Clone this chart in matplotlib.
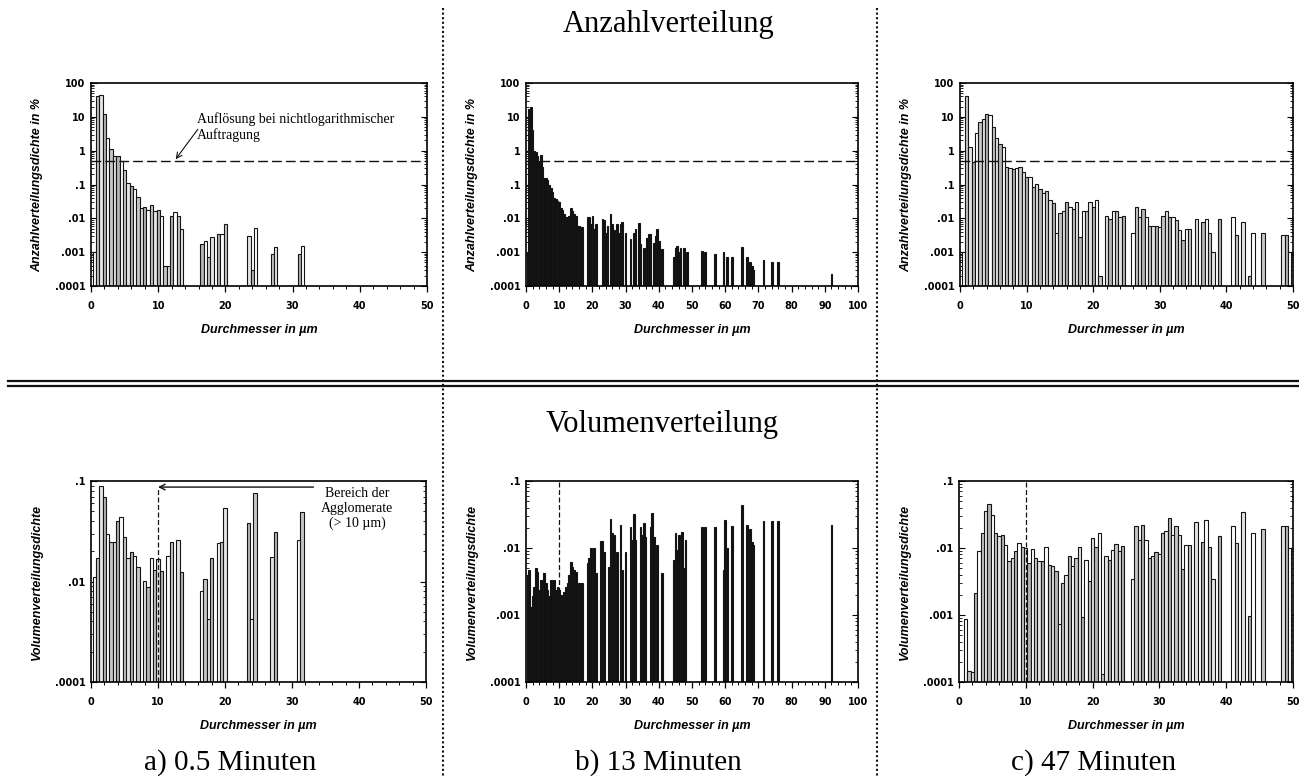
import numpy as np
import matplotlib
matplotlib.use("Agg")
import matplotlib.pyplot as plt
from matplotlib.lines import Line2D
from matplotlib.ticker import (FixedLocator, FixedFormatter, MultipleLocator,
                               LogLocator, NullFormatter)

# ---------------------------------------------------------------------------
# Particle size distributions (bin centre in µm, density)
# ---------------------------------------------------------------------------
# a) 0.5 min - number distribution (%)
a_num_d = [0.5, 1.0, 1.5, 2.0, 2.5, 3.0, 3.5, 4.0, 4.5, 5.0, 5.5, 6.0, 6.5, 7.0,
           7.5, 8.0, 8.5, 9.0, 9.5, 10.0, 10.5, 11.0, 11.5, 12.0, 12.5, 13.0,
           13.5, 16.5, 17.0, 17.5, 18.0, 19.0, 19.5, 20.0, 23.5, 24.0, 24.5,
           27.0, 27.5, 31.0, 31.5]
a_num_v = [0.001, 40, 45, 12, 2.4, 1.15, 0.7, 0.7, 0.5, 0.26, 0.11, 0.09, 0.075,
           0.044, 0.02, 0.021, 0.018, 0.024, 0.017, 0.018, 0.012, 0.0004, 0.0004,
           0.012, 0.015, 0.012, 0.005, 0.0018, 0.0021, 0.0007, 0.0028, 0.0034,
           0.0034, 0.007, 0.003, 0.0003, 0.0052, 0.0009, 0.0014, 0.0009, 0.0015]

# a) 0.5 min - volume distribution
a_vol_d = [0.5, 1.0, 1.5, 2.0, 2.5, 3.0, 3.5, 4.0, 4.5, 5.0, 5.5, 6.0, 6.5, 7.0,
           8.0, 8.5, 9.0, 9.5, 10.0, 10.5, 11.5, 12.0, 13.0, 13.5, 16.5, 17.0,
           17.5, 18.0, 19.0, 19.5, 20.0, 23.5, 24.0, 24.5, 27.0, 27.5, 31.0, 31.5]
a_vol_v = [0.011, 0.017, 0.09, 0.07, 0.03, 0.025, 0.025, 0.04, 0.044, 0.028,
           0.017, 0.0195, 0.018, 0.014, 0.0102, 0.0089, 0.017, 0.013, 0.0167,
           0.0127, 0.018, 0.025, 0.026, 0.0125, 0.008, 0.0105, 0.0042, 0.017,
           0.024, 0.025, 0.054, 0.038, 0.0042, 0.076, 0.0177, 0.031, 0.026, 0.049]

# b) 13 min - number distribution (%)
b_num_d = [0.5, 1.0, 1.5, 2.0, 2.5, 3.0, 3.5, 4.0, 4.5, 5.0, 5.5, 6.0, 6.5, 7.0,
           7.5, 8.0, 8.5, 9.0, 9.5, 10.0, 10.5, 11.0, 11.5, 12.0, 12.5, 13.0,
           13.5, 14.0, 14.5, 15.0, 15.5, 16.0, 16.5, 17.0,
           18.5, 19.0, 19.5, 20.0, 20.5, 21.0, 23.0, 23.5, 24.0, 24.5,
           25.5, 26.0, 26.5, 27.0, 27.5, 28.0, 28.5, 29.0, 30.0, 31.5, 32.5, 33.0,
           34.0, 34.5, 35.5, 36.5, 37.0, 37.5, 38.5, 39.0, 39.5, 40.0, 41.0,
           44.5, 45.0, 45.5, 46.0, 46.5, 47.5, 48.0, 48.5, 53.0, 54.0, 57.0,
           59.5, 60.5, 62.0, 65.0, 66.5, 67.5, 68.0, 68.5, 71.5, 74.0, 76.0, 92.0]
b_num_v = [0.001, 17, 19, 4, 1.0, 0.9, 0.7, 0.5, 0.75, 0.32, 0.16, 0.16, 0.14,
           0.1, 0.08, 0.06, 0.04, 0.037, 0.033, 0.03, 0.02, 0.018, 0.013, 0.011,
           0.0107, 0.012, 0.02, 0.017, 0.013, 0.012, 0.006, 0.0058, 0.0054, 0.0054,
           0.011, 0.011, 0.007, 0.012, 0.005, 0.007, 0.0094, 0.009, 0.0036, 0.006,
           0.013, 0.007, 0.0045, 0.0036, 0.007, 0.0036, 0.007, 0.0077, 0.0038,
           0.0024, 0.0038, 0.0047, 0.0073, 0.0017, 0.0013, 0.0027, 0.0034, 0.0034,
           0.0019, 0.003, 0.0047, 0.0021, 0.0012, 0.0007, 0.0013, 0.0015, 0.001,
           0.0013, 0.0013, 0.0004, 0.001, 0.0011, 0.001, 0.0009, 0.001, 0.0007,
           0.0007, 0.0014, 0.0007, 0.0005, 0.0004, 0.0003, 0.0006, 0.0005, 0.0005,
           0.00023]

# b) 13 min - volume distribution
b_vol_d = [0.5, 1.0, 1.5, 2.0, 2.5, 3.0, 3.5, 4.0, 4.5, 5.0, 5.5, 6.0, 6.5, 7.0,
           7.5, 8.0, 8.5, 9.0, 9.5, 10.0, 10.5, 11.0, 11.5, 12.0, 12.5, 13.0,
           13.5, 14.0, 14.5, 15.0, 15.5, 16.0, 16.5, 17.0,
           18.5, 19.0, 19.5, 20.0, 20.5, 21.0, 22.5, 23.0, 23.5,
           25.0, 25.5, 26.0, 26.5, 27.0, 27.5, 28.5, 29.0, 30.0,
           31.5, 32.0, 32.5, 33.0, 34.5, 35.0, 35.5, 36.0, 37.5, 38.0, 38.5, 39.5,
           41.0, 44.5, 45.0, 45.5, 46.0, 47.0, 47.5, 48.0,
           53.0, 54.0, 57.0, 59.5, 60.0, 60.5, 62.0, 65.0, 66.5, 67.5, 68.0, 68.5,
           71.5, 74.0, 76.0, 92.0]
b_vol_v = [0.004, 0.0047, 0.0013, 0.0019, 0.0026, 0.005, 0.0044, 0.0024, 0.0033,
           0.0026, 0.0042, 0.003, 0.0024, 0.0019, 0.0033, 0.0026, 0.0033, 0.0024,
           0.0026, 0.0024, 0.002, 0.0019, 0.0022, 0.0026, 0.003, 0.004, 0.0062,
           0.0052, 0.0047, 0.0044, 0.0015, 0.003, 0.003, 0.003,
           0.0059, 0.007, 0.0099, 0.0059, 0.0099, 0.0043, 0.0127, 0.0127, 0.0088,
           0.0052, 0.0275, 0.017, 0.0155, 0.0083, 0.0088, 0.0224, 0.0047, 0.0088,
           0.0207, 0.013, 0.032, 0.013, 0.0207, 0.0155, 0.024, 0.0147, 0.0207,
           0.0338, 0.0147, 0.011, 0.0042, 0.0066, 0.0165, 0.0093, 0.0155, 0.0175,
           0.005, 0.013, 0.0207, 0.0207, 0.0207, 0.0047, 0.026, 0.0099, 0.021,
           0.044, 0.0224, 0.019, 0.0123, 0.011, 0.025, 0.025, 0.025, 0.022]

# c) 47 min - number distribution (%)
c_num_d = [0.5, 1.0, 1.5, 2.0, 2.5, 3.0, 3.5, 4.0, 4.5, 5.0, 5.5, 6.0, 6.5, 7.0,
           7.5, 8.0, 8.5, 9.0, 9.5, 10.0, 10.5, 11.0, 11.5, 12.0, 12.5, 13.0,
           13.5, 14.0, 14.5, 15.0, 15.5, 16.0, 16.5, 17.0, 17.5, 18.0, 18.5,
           19.0, 19.5, 20.0, 20.5, 21.0, 22.0, 22.5, 23.0, 23.5, 24.0, 24.5,
           26.0, 26.5, 27.0, 27.5, 28.0, 28.5, 29.0, 29.5, 30.0, 30.5, 31.0, 31.5,
           32.0, 32.5, 33.0, 33.5, 34.0, 34.5, 35.5, 36.5, 37.0, 37.5, 38.0, 39.0,
           41.0, 41.5, 42.5, 43.5, 44.0, 45.5, 48.5, 49.0, 49.5]
c_num_v = [0.001, 42, 1.3, 0.45, 3.3, 7, 8.5, 12, 11, 5, 2.4, 1.6, 1.3, 0.32,
           0.3, 0.28, 0.3, 0.32, 0.24, 0.17, 0.17, 0.085, 0.105, 0.075, 0.055,
           0.065, 0.035, 0.028, 0.0038, 0.014, 0.016, 0.03, 0.022, 0.019, 0.03,
           0.0028, 0.017, 0.016, 0.03, 0.022, 0.035, 0.0002, 0.012, 0.0098, 0.016,
           0.016, 0.011, 0.012, 0.0036, 0.022, 0.011, 0.019, 0.011, 0.006, 0.006,
           0.006, 0.0055, 0.012, 0.016, 0.011, 0.011, 0.009, 0.0045, 0.0023, 0.005,
           0.005, 0.0098, 0.0077, 0.0098, 0.0036, 0.001, 0.0098, 0.011, 0.0032,
           0.0077, 0.0002, 0.0036, 0.0037, 0.0032, 0.0032, 0.001]

# c) 47 min - volume distribution
c_vol_d = [1.0, 1.5, 2.0, 2.5, 3.0, 3.5, 4.0, 4.5, 5.0, 5.5, 6.0, 6.5, 7.0, 7.5,
           8.0, 8.5, 9.0, 9.5, 10.0, 10.5, 11.0, 11.5, 12.0, 12.5, 13.0, 13.5,
           14.0, 14.5, 15.0, 15.5, 16.0, 16.5, 17.0, 17.5, 18.0, 18.5, 19.0, 19.5,
           20.0, 20.5, 21.0, 21.5, 22.0, 22.5, 23.0, 23.5, 24.0, 24.5,
           26.0, 26.5, 27.0, 27.5, 28.0, 28.5, 29.0, 29.5, 30.0, 30.5, 31.0, 31.5,
           32.0, 32.5, 33.0, 33.5, 34.0, 34.5, 35.5, 36.5, 37.0, 37.5, 38.0, 39.0,
           41.0, 41.5, 42.5, 43.5, 44.0, 45.5, 48.5, 49.0, 49.5]
c_vol_v = [0.00087, 0.000145, 0.00014, 0.0021, 0.009, 0.017, 0.036, 0.045, 0.031,
           0.0166, 0.015, 0.0157, 0.011, 0.0065, 0.007, 0.0089, 0.0118, 0.0105,
           0.01, 0.006, 0.0097, 0.007, 0.0063, 0.0063, 0.0105, 0.0055, 0.0053,
           0.0045, 0.00074, 0.003, 0.004, 0.0075, 0.0053, 0.007, 0.0105, 0.00092,
           0.0066, 0.0032, 0.014, 0.0105, 0.017, 0.00013, 0.0075, 0.0066, 0.0094,
           0.0115, 0.009, 0.0108, 0.0034, 0.021, 0.013, 0.022, 0.013, 0.0072,
           0.0075, 0.0086, 0.008, 0.0166, 0.0177, 0.028, 0.0157, 0.021, 0.0157,
           0.0048, 0.011, 0.011, 0.0245, 0.0125, 0.026, 0.0105, 0.0034, 0.015,
           0.021, 0.012, 0.034, 0.00095, 0.0166, 0.019, 0.021, 0.021, 0.01]

# Axis tick labels
num_ticks = [100, 10, 1, 0.1, 0.01, 0.001, 0.0001]
num_tick_text = ["100", "10", "1", ".1", ".01", ".001", ".0001"]
vol_ticks = [0.1, 0.01, 0.001, 0.0001]
vol_tick_text = [".1", ".01", ".001", ".0001"]
vol_ticks_a = [0.1, 0.01, 0.001]
vol_tick_text_a = [".1", ".01", ".0001"]

RESOLUTION_LIMIT = 0.5    # % - resolution of a linear plot
AGGLOMERATE_SIZE = 10     # µm

row_titles = ["Anzahlverteilung", "Volumenverteilung"]
panel_titles = ["a) 0.5 Minuten", "b) 13 Minuten", "c) 47 Minuten"]
xlabel_text = "Durchmesser in µm"
ylabel_num = "Anzahlverteilungsdichte in %"
ylabel_vol = "Volumenverteilungsdichte"

# ---------------------------------------------------------------------------
W, H = 1299, 776
plt.rcParams["font.family"] = "DejaVu Sans"
plt.rcParams["font.weight"] = "bold"
plt.rcParams["xtick.labelsize"] = 7
plt.rcParams["ytick.labelsize"] = 7
fig = plt.figure(figsize=(W / 100, H / 100), dpi=100)
fig.patch.set_facecolor("white")

SERIF = ["Liberation Serif", "DejaVu Serif"]
LABEL_FONT = dict(family=["Liberation Sans", "DejaVu Sans"], weight="bold",
                  style="italic", size=9)
BAR_SHADES = ["white", "#c6c6c6", "#e4e4e4", "#b4b4b4"]


def px_box(left, right, top, bottom):
    return [left / W, 1 - bottom / H, (right - left) / W, (bottom - top) / H]


def fx(x):
    return x / W


def fy(y):
    return 1 - y / H


def histogram_panel(box, diam, dens, floor, top, xmax, dark, yticks, ytext, ylabel):
    ax = fig.add_axes(px_box(*box))
    heights = np.asarray(dens, float) - floor
    if dark:
        faces = "#101010"
    else:
        faces = [BAR_SHADES[i % len(BAR_SHADES)] for i in range(len(diam))]
    ax.bar(diam, heights, width=0.5, bottom=floor, color=faces,
           edgecolor="#141414", linewidth=0.8, zorder=2)
    ax.set_yscale("log")
    ax.set_ylim(floor, top)
    ax.set_xlim(0, xmax)
    ax.yaxis.set_major_locator(FixedLocator(yticks))
    ax.yaxis.set_major_formatter(FixedFormatter(ytext))
    ax.yaxis.set_minor_locator(LogLocator(base=10, subs=np.arange(2, 10)))
    ax.yaxis.set_minor_formatter(NullFormatter())
    ax.xaxis.set_major_locator(MultipleLocator(10))
    ax.xaxis.set_minor_locator(MultipleLocator(2))
    ax.tick_params(axis="y", which="both", direction="in", left=True, right=True, pad=4)
    ax.tick_params(axis="y", which="major", length=4, width=0.8)
    ax.tick_params(axis="y", which="minor", length=2, width=0.6)
    ax.tick_params(axis="x", which="both", direction="out", top=False, pad=7)
    ax.tick_params(axis="x", which="major", length=4, width=0.9)
    ax.tick_params(axis="x", which="minor", length=2.2, width=0.7)
    for sp in ax.spines.values():
        sp.set_linewidth(1.2)
    left, right, t, b = box
    cx = (left + right) / 2
    fig.text(fx(cx), fy(b + 44), xlabel_text, ha="center", va="center", **LABEL_FONT)
    fig.text(fx(left - 54), fy((t + b) / 2), ylabel, ha="center", va="center",
             rotation=90, **LABEL_FONT)
    return ax


# Number distributions (upper row)
top_boxes = [(91, 427, 83, 286), (526, 858, 83, 286), (960, 1293, 83, 286)]
num_sets = [(a_num_d, a_num_v, 50, False), (b_num_d, b_num_v, 100, True),
            (c_num_d, c_num_v, 50, False)]
num_axes = []
for box, (d, v, xmax, dark) in zip(top_boxes, num_sets):
    ax = histogram_panel(box, d, v, 1e-4, 100, xmax, dark, num_ticks,
                         num_tick_text, ylabel_num)
    ax.plot([0, xmax], [RESOLUTION_LIMIT, RESOLUTION_LIMIT], color="#111111",
            lw=1.0, ls=(0, (7, 3)), zorder=3)
    num_axes.append(ax)

ax = num_axes[0]
ax.text(15.8, 5.0, "Auflösung bei nichtlogarithmischer\nAuftragung", ha="left",
        va="center", family=SERIF, weight="normal", size=10, linespacing=1.2,
        zorder=5)
ax.annotate("", xy=(12.6, 0.56), xytext=(15.9, 4.3),
            arrowprops=dict(arrowstyle="->", lw=0.8, color="#111111",
                            shrinkA=0, shrinkB=0), zorder=5)

# Volume distributions (lower row)
bot_boxes = [(91, 426, 481, 682), (526, 858, 481, 682), (959, 1293, 481, 682)]
vol_sets = [(a_vol_d, a_vol_v, 50, False, 1e-3, vol_ticks_a, vol_tick_text_a),
            (b_vol_d, b_vol_v, 100, True, 1e-4, vol_ticks, vol_tick_text),
            (c_vol_d, c_vol_v, 50, False, 1e-4, vol_ticks, vol_tick_text)]
vol_axes = []
for box, (d, v, xmax, dark, floor, yt, ytt) in zip(bot_boxes, vol_sets):
    vol_axes.append(histogram_panel(box, d, v, floor, 0.1, xmax, dark, yt, ytt,
                                    ylabel_vol))

for i, ax in enumerate(vol_axes):
    lo = ax.get_ylim()[0]
    hi = 0.087 if i == 0 else 0.1
    ax.plot([AGGLOMERATE_SIZE, AGGLOMERATE_SIZE], [lo, hi], color="#111111",
            lw=0.9, ls=(0, (4, 2)), zorder=4)

ax = vol_axes[0]
ax.annotate("", xy=(AGGLOMERATE_SIZE, 0.087), xytext=(33.2, 0.087),
            arrowprops=dict(arrowstyle="->", lw=1.0, color="#111111",
                            shrinkA=0, shrinkB=0), zorder=5)
ax.text(39.7, 0.053, "Bereich der\nAgglomerate\n(> 10 µm)", ha="center",
        va="center", family=SERIF, weight="normal", size=10, linespacing=1.2,
        zorder=5)

# Row headings and panel captions
fig.text(fx(669), fy(32), row_titles[0], ha="center", va="baseline",
         family=SERIF, weight="normal", size=22)
fig.text(fx(662), fy(432), row_titles[1], ha="center", va="baseline",
         family=SERIF, weight="normal", size=22)
for cx, title in zip([230, 658, 1094], panel_titles):
    fig.text(fx(cx), fy(770), title, ha="center", va="baseline",
             family=SERIF, weight="normal", size=21)

# Separators: dotted column rules and the double rule between the rows
for xs in (443, 877):
    fig.add_artist(Line2D([fx(xs), fx(xs)], [fy(8), fy(776)], color="#111111",
                          lw=1.5, ls=(0, (1, 1.2))))
for ys in (381, 386):
    fig.add_artist(Line2D([fx(8), fx(1299)], [fy(ys), fy(ys)], color="#111111",
                          lw=1.6))

fig.savefig("out.png", dpi=100)
